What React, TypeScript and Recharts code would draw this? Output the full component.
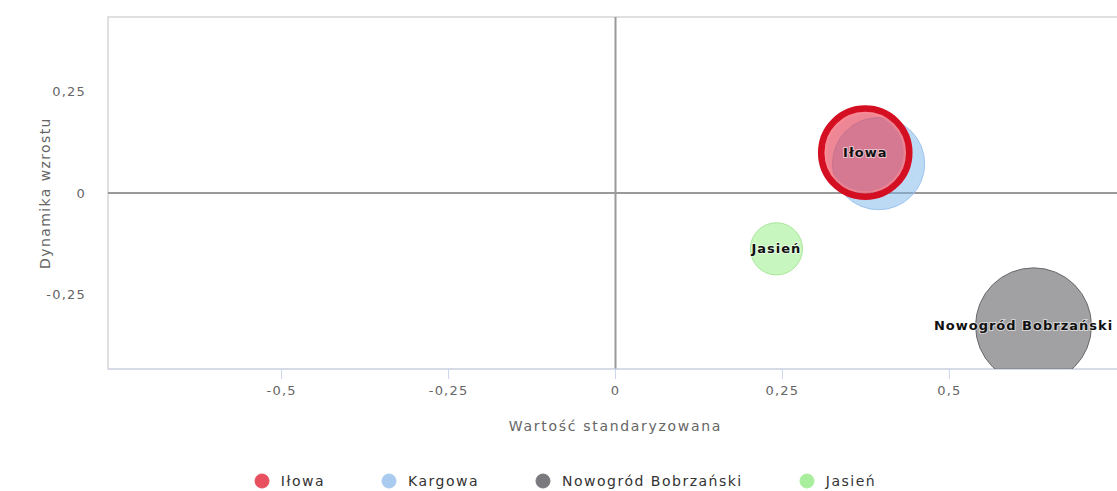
import React from 'react';
import {
  ScatterChart,
  Scatter,
  XAxis,
  YAxis,
  ZAxis,
  ReferenceLine,
  ReferenceArea,
  Legend,
  Label,
} from 'recharts';

// ---- data ----
const seriesNames = ['Iłowa', 'Kargowa', 'Nowogród Bobrzański', 'Jasień'];
const xValues = [0.374, 0.394, 0.626, 0.241];
const yValues = [0.099, 0.072, -0.326, -0.137];
const zValues = [19.4, 21.2, 33.6, 6.8];
const showLabel = [true, false, true, true];
const xTicks = [-0.5, -0.25, 0, 0.25, 0.5];
const yTicks = [-0.25, 0, 0.25];
const xDomain = [-0.76, 0.76];
const yDomain = [-0.432, 0.432];
const zDomain = [0, 33.64];

// ---- styles ----
const FONT = '"DejaVu Sans", Verdana, sans-serif';
const styles = [
  { fill: 'rgba(226, 62, 84, 0.62)', stroke: '#d50f22', strokeWidth: 6.5, legend: '#e8505f', labelDx: 0 },
  { fill: 'rgba(124, 181, 236, 0.5)', stroke: '#9cc4ee', strokeWidth: 1, legend: '#a9cbef', labelDx: 0 },
  { fill: 'rgba(67, 67, 72, 0.5)', stroke: '#6a6a6e', strokeWidth: 1, legend: '#7a7a7e', labelDx: -10 },
  { fill: 'rgba(144, 237, 125, 0.5)', stroke: '#a8e89a', strokeWidth: 1, legend: '#a9ee9c', labelDx: 0 },
];

const seriesData = seriesNames.map((name, i) => ({
  name,
  index: i,
  data: [{ x: xValues[i], y: yValues[i], z: zValues[i], name, label: showLabel[i] }],
}));

// draw order: Kargowa below Iłowa
const drawOrder = [1, 0, 2, 3];

const fmt = (v: number) => String(v).replace('.', ',');

const makeShape = (i: number) => (props: any) => {
  const { cx, cy, width, payload } = props;
  const r = width / 2;
  const st = styles[i];
  return (
    <g>
      <circle cx={cx} cy={cy} r={r} fill={st.fill} stroke={st.stroke} strokeWidth={st.strokeWidth} />
      {i === 0 && (
        <circle cx={cx} cy={cy} r={r - 4.5} fill="none" stroke="rgba(255,140,150,0.55)" strokeWidth={2} />
      )}
      {payload.label && (
        <text
          x={cx + st.labelDx}
          y={cy}
          textAnchor="middle"
          dominantBaseline="central"
          fontFamily={FONT}
          fontSize={13}
          fontWeight="bold"
          letterSpacing={1}
          fill="#111"
          stroke="rgba(255,255,255,0.55)"
          strokeWidth={2}
          paintOrder="stroke"
        >
          {payload.name}
        </text>
      )}
    </g>
  );
};

const LegendContent = () => (
  <div
    style={{
      display: 'flex',
      justifyContent: 'center',
      alignItems: 'center',
      fontFamily: FONT,
      fontSize: 14,
      lineHeight: '16px',
      letterSpacing: 1.5,
      color: '#333',
      height: 16,
    }}
  >
    {seriesNames.map((n, i) => (
      <div key={n} style={{ display: 'flex', alignItems: 'center', marginRight: i < 3 ? 56 : 0 }}>
        <svg width={16} height={16} style={{ marginRight: 11 }}>
          <circle cx={8} cy={8} r={7} fill={styles[i].legend} stroke={styles[i].legend} strokeWidth={1} />
        </svg>
        <span>{n}</span>
      </div>
    ))}
  </div>
);

const YTitle = (props: any) => {
  const vb = props.viewBox || {};
  const cx = vb.x + 45;
  const cy = vb.y + vb.height / 2;
  return (
    <text
      x={cx}
      y={cy}
      transform={`rotate(-90, ${cx}, ${cy})`}
      textAnchor="middle"
      dominantBaseline="central"
      fontFamily={FONT}
      fontSize={14}
      letterSpacing={1.4}
      fill="#666"
    >
      Dynamika wzrostu
    </text>
  );
};

export default function App() {
  return (
    <div
      style={{
        position: 'absolute',
        left: 0,
        top: 0,
        width: 1117,
        height: 491,
        overflow: 'hidden',
        background: '#fff',
      }}
    >
      <ScatterChart width={1130} height={491} margin={{ top: 17, right: 7, left: 0, bottom: 0 }}>
        <XAxis
          type="number"
          dataKey="x"
          domain={xDomain}
          ticks={xTicks}
          tickFormatter={fmt}
          height={122}
          stroke="#ccd6eb"
          tickSize={10}
          tickMargin={7}
          tick={{ fill: '#666', fontSize: 13, fontFamily: FONT, letterSpacing: 1.2 }}
          allowDataOverflow
        >
          <Label
            value="Wartość standaryzowana"
            position="insideTop"
            offset={52}
            style={{ fontFamily: FONT, fontSize: 14, letterSpacing: 1.7, fill: '#666' }}
          />
        </XAxis>
        <YAxis
          type="number"
          dataKey="y"
          domain={yDomain}
          ticks={yTicks}
          tickFormatter={fmt}
          width={108}
          axisLine={false}
          tickLine={false}
          tickSize={0}
          tickMargin={22}
          tick={{ fill: '#666', fontSize: 13, fontFamily: FONT, letterSpacing: 1.2 }}
          allowDataOverflow
        >
          <Label content={<YTitle />} />
        </YAxis>
        <ZAxis type="number" dataKey="z" domain={zDomain} range={[0, Math.PI * 58 * 58]} />
        <ReferenceArea
          x1={xDomain[0]}
          x2={xDomain[1]}
          y1={yDomain[0]}
          y2={yDomain[1]}
          fill="none"
          stroke="#d6d6d6"
          strokeWidth={1.5}
          ifOverflow="visible"
        />
        <ReferenceLine x={0} stroke="#9a9a9a" strokeWidth={2} />
        <ReferenceLine y={0} stroke="#9a9a9a" strokeWidth={2} />
        {drawOrder.map((i) => (
          <Scatter
            key={seriesData[i].name}
            name={seriesData[i].name}
            data={seriesData[i].data}
            fill={styles[i].legend}
            shape={makeShape(i)}
            isAnimationActive={false}
          />
        ))}
        <Legend
          layout="horizontal"
          verticalAlign="middle"
          align="center"
          content={<LegendContent />}
          wrapperStyle={{ top: 473, left: 0, width: 1130, height: 16 }}
        />
      </ScatterChart>
    </div>
  );
}
